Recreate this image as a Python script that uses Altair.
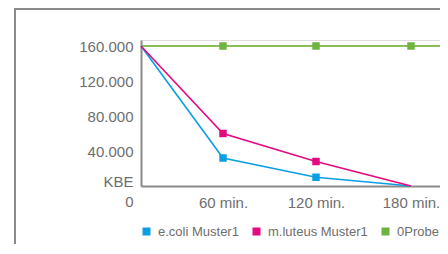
import altair as alt
import pandas as pd

minutes = [0, 60, 120, 180]
ecoli = [160000, 32000, 10000, 0]
mluteus = [160000, 60000, 28000, 0]
probe = [160000, 160000, 160000, 160000]
series_names = ["e.coli Muster1", "m.luteus Muster1", "0Probe"]
colors = ["#0a9fe3", "#e5097f", "#6db33f"]
probe_line_color = "#88c057"
y_ticks = [0, 40000, 80000, 120000, 160000]
x_ticks = [60, 120, 180]

rows = []
for name, vals in zip(series_names, [ecoli, mluteus, probe]):
    for m, v in zip(minutes, vals):
        rows.append({"min": m, "kbe": v, "series": name})
df = pd.DataFrame(rows)
df_lines = df[df["series"] != "0Probe"]
df_pts = df[(df["min"] > 0) & ((df["kbe"] > 0) | (df["series"] == "0Probe"))]
df_probe = pd.DataFrame({"kbe": [probe[0]], "series": ["0Probe"]})

W, H = 299, 146

xscale = alt.Scale(domain=[0, 60, 120, 180, 200], range=[0, 82, 175, 270, W])
yscale = alt.Scale(domain=[0, 160000 * 146 / 140], nice=False, zero=True)
cscale = alt.Scale(domain=series_names, range=colors)

xaxis = alt.Axis(values=x_ticks, labelExpr="datum.value + ' min.'", title=None,
                 ticks=False, tickSize=0, grid=False, domainColor="#8a8a8a",
                 domainWidth=2, labelPadding=9, labelFontSize=15,
                 labelColor="#6e6e6e", labelFont="Liberation Sans")
yaxis = alt.Axis(values=y_ticks,
                 labelExpr="datum.value == 0 ? ['KBE', '0'] : replace(format(datum.value, ',d'), ',', '.')",
                 title=None, ticks=False, tickSize=0, grid=False,
                 domainColor="#8a8a8a", domainWidth=2, labelPadding=8,
                 labelFontSize=15, labelColor="#6e6e6e", labelFont="Liberation Sans",
                 labelLineHeight=20,
                 labelOffset=alt.condition("datum.value == 0", alt.value(-5), alt.value(0)))

legend = alt.Legend(title=None, orient="none", direction="horizontal",
                    legendX=-1, legendY=185, symbolType="square",
                    symbolSize=64, symbolStrokeWidth=0,
                    labelFontSize=13, labelColor="#6e6e6e",
                    labelFont="Liberation Sans", labelOffset=5,
                    columnPadding=11, gridAlign="none")

frame = alt.Chart(df_probe).mark_rect(fill=None, stroke="#8a8a8a", strokeWidth=2, clip=False).encode(
    x=alt.value(-126), x2=alt.value(600), y=alt.value(-31), y2=alt.value(600))

probe_rule = alt.Chart(df_probe).mark_rule(strokeWidth=2, color=probe_line_color).encode(
    y=alt.Y("kbe:Q", scale=yscale, axis=yaxis))

lines = alt.Chart(df_lines).mark_line(strokeWidth=1.6).encode(
    x=alt.X("min:Q", scale=xscale, axis=xaxis),
    y=alt.Y("kbe:Q", scale=yscale, axis=yaxis),
    color=alt.Color("series:N", scale=cscale, legend=legend),
)

points = alt.Chart(df_pts).mark_point(shape="square", filled=True, size=56, opacity=1).encode(
    x=alt.X("min:Q", scale=xscale, axis=xaxis),
    y=alt.Y("kbe:Q", scale=yscale, axis=yaxis),
    color=alt.Color("series:N", scale=cscale, legend=legend),
)

chart = alt.layer(frame, probe_rule, lines, points).properties(
    width=W, height=H,
    autosize=alt.AutoSizeParams(type="none"),
    padding={"left": 133, "top": 32, "right": 0, "bottom": 58},
).configure_view(stroke=None).configure(background="white")

chart.save("out.html", embed_options={"renderer": "svg", "actions": False})
